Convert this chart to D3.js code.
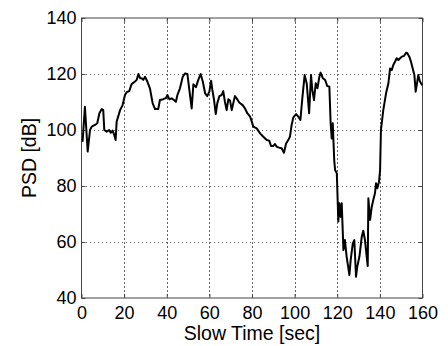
<!DOCTYPE html>
<html>
<head>
<meta charset="utf-8">
<script src="https://cdn.jsdelivr.net/npm/d3@7"></script>
<style>
html,body{margin:0;padding:0;background:#fff;}
svg text{font-family:"Liberation Sans",Arial,sans-serif;fill:#000;}
</style>
</head>
<body>
<svg id="chart" width="448" height="346"></svg>
<script>
const timeSec = [0.5,1.6,2.9,4,4.8,6.3,7.4,8.4,9.5,10.2,10.7,11.8,13,13.7,14.6,15.4,16,16.5,18.1,19.3,20.4,21.2,22.4,23.5,25.1,25.9,26.7,27.5,28.2,29,29.8,30.9,32.1,33.4,34.5,36,36.8,38.4,39.7,40.3,41.2,42.3,43.4,44.3,45,46.2,47.5,48.6,49.7,50.6,51.7,52.5,53.7,54.8,55.9,56.9,58,59,60,60.8,61.4,62.2,63,63.7,64.7,65.8,66.5,67.3,68.1,68.9,69.7,70.5,71.2,72,72.8,74,75.6,76.7,77.8,79.1,79.9,80.6,82.2,83.8,85.3,86.9,88.1,88.9,90,90.8,91.6,92.7,93.9,95,96,97,97.8,98.6,99.4,100.7,101.7,102.7,103.7,104.7,105.7,106.8,107.7,108.3,109.1,109.9,110.7,111.6,112.2,113.2,114.3,115.3,116.3,116.9,117.4,117.9,118.2,118.6,119,119.8,120.5,121,121.6,122.1,122.9,123.6,124.4,125.7,126.3,127.3,128,128.8,129.4,130.4,131.5,132.2,133,134.3,134.6,135.4,136.2,136.9,137.7,138.2,138.8,139.6,140.1,140.5,141.6,142.9,144,144.8,145.6,146.3,147.1,147.9,148.7,149.5,150.3,151.3,152.3,152.9,153.8,154.6,155.4,156.2,156.8,157.3,158,158.8,159.9];
const psdDb = [95.8,108.3,92.3,100,101.2,101.8,102.4,106,107.5,107.1,100,99.4,100,99,99.8,98.2,96.4,103,107.1,108.9,112.5,113.5,113.9,116.4,117.3,117.9,120,118.5,118.5,117.9,119,117.3,114.9,109.5,107.5,107.5,110.7,111,111.5,112.5,111,111.3,110.7,110.1,112.5,114.9,119,120.2,120,114.3,107.7,116.3,115.3,117.9,120,117.3,113.1,112.1,113.7,117.6,114.3,110.7,105.7,109.5,112.1,112.5,113.9,110.1,107.1,111,110.5,107.1,109.5,112.1,111.3,109.8,108.9,107.7,106,104.8,103,101.2,100.6,98.8,97.6,96.4,96.2,94.3,94.3,95,94,93.7,93.5,91.9,95.2,96.4,97.6,101.8,104.5,105.7,104.8,103.6,112,119.6,116.5,106,119.6,114.3,110.7,116.7,114.9,119,120.5,118.5,117.9,115.7,115.5,102.4,97,102.4,96.4,89,85.7,84.5,67.3,73.8,69,73.8,57.1,60.7,54.8,48.2,53.6,59.5,60.7,47.6,51.2,54.8,61.9,64,60.7,51.4,75.6,67.9,72.6,75,77.4,81,79.2,81.5,85.7,100,107.1,113.1,116.7,122,121.4,123.2,124.4,125.6,125,125.6,126.2,126.4,127.6,127.4,126.2,124.4,122,119.6,113.7,116,119.6,117.3,116];
const xTicks = [0,20,40,60,80,100,120,140,160];
const yTicks = [40,60,80,100,120,140];
const xLabel = "Slow Time [sec]";
const yLabel = "PSD [dB]";

const svg = d3.select("#chart");
const L = 81.5, R = 422.5, T = 18, B = 298;
const x = d3.scaleLinear().domain([0,160]).range([L,R]);
const y = d3.scaleLinear().domain([40,140]).range([B,T]);

// grid
const grid = svg.append("g").attr("stroke","#666").attr("stroke-width",1).attr("stroke-dasharray","1.5,2.5").attr("shape-rendering","crispEdges");
grid.selectAll(".gx").data(xTicks.slice(1,-1)).enter().append("line")
  .attr("x1",d=>Math.round(x(d))+0.5).attr("x2",d=>Math.round(x(d))+0.5).attr("y1",T).attr("y2",B);
grid.selectAll(".gy").data(yTicks.slice(1,-1)).enter().append("line")
  .attr("y1",d=>Math.round(y(d))+0.5).attr("y2",d=>Math.round(y(d))+0.5).attr("x1",L).attr("x2",R);

// axes
const xAxis = d3.axisBottom(x).tickValues(xTicks).tickSize(-4).tickPadding(8).tickFormat(d3.format("d"));
const yAxis = d3.axisLeft(y).tickValues(yTicks).tickSize(-4).tickPadding(5).tickFormat(d3.format("d"));
const gx = svg.append("g").attr("transform",`translate(0,${B})`).call(xAxis);
const gy = svg.append("g").attr("transform",`translate(${L},0)`).call(yAxis);
const gxt = svg.append("g").attr("transform",`translate(0,${T})`).call(d3.axisTop(x).tickValues(xTicks).tickSize(-4).tickFormat(""));
const gyr = svg.append("g").attr("transform",`translate(${R},0)`).call(d3.axisRight(y).tickValues(yTicks).tickSize(-4).tickFormat(""));
[gx,gy,gxt,gyr].forEach(g=>{
  g.select(".domain").remove();
  g.selectAll(".tick line").attr("stroke","#444");
  g.selectAll("text").attr("font-size","18px").attr("fill","#000");
});
gx.selectAll("text").attr("dy","0.71em");
gy.selectAll("text").attr("dy","0.32em");

// frame
svg.append("rect").attr("x",L).attr("y",T).attr("width",R-L).attr("height",B-T)
  .attr("fill","none").attr("stroke","#444").attr("stroke-width",1);

// line
const line = d3.line().x((d,i)=>x(timeSec[i])).y(d=>y(d));
svg.append("path").datum(psdDb).attr("d",line).attr("fill","none")
  .attr("stroke","#000").attr("stroke-width",2).attr("stroke-linejoin","round");

// labels
svg.append("text").attr("x",(L+R)/2).attr("y",340).attr("text-anchor","middle").attr("font-size","19.5px").text(xLabel);
svg.append("text").attr("transform",`translate(36,${(T+B)/2}) rotate(-90)`).attr("text-anchor","middle").attr("font-size","19.5px").text(yLabel);
</script>
</body>
</html>
